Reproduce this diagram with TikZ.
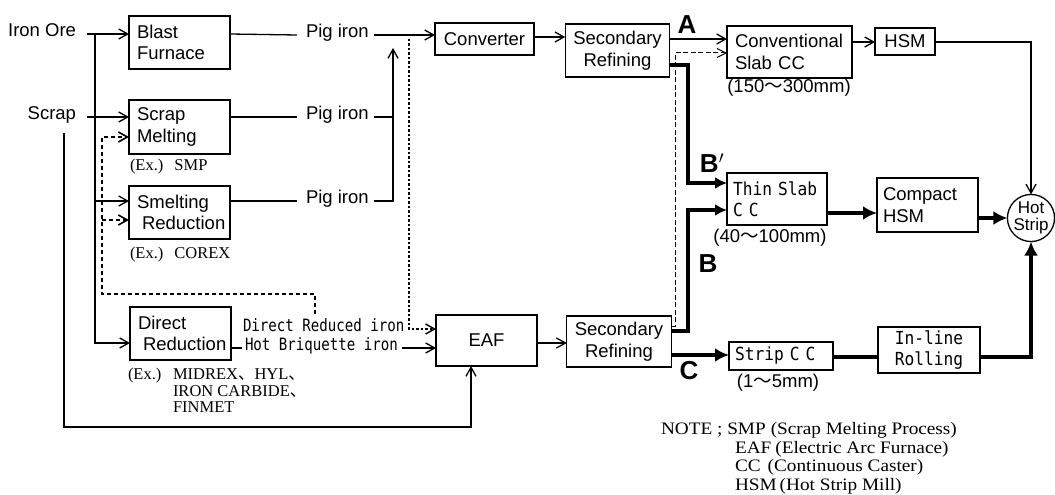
\documentclass[tikz,border=0pt]{standalone}
\usepackage{fontspec}
\setmainfont{Liberation Sans}
\newfontfamily\jserif{Liberation Serif}
\newfontfamily\jserifw[FakeStretch=1.1]{Liberation Serif}
\newfontfamily\cjk{Noto Sans CJK JP}
\newfontfamily\monobox[FakeStretch=0.9]{DejaVu Sans Mono}
\newfontfamily\monotxt[FakeStretch=0.83]{DejaVu Sans Mono}
\usetikzlibrary{arrows.meta}
\begin{document}
\begin{tikzpicture}[x=1pt,y=-1pt,
  every node/.style={inner sep=0pt, outer sep=0pt},
  sf/.style={font=\fontsize{18.5}{21.5}\selectfont},
  box/.style={draw, line width=1.3pt, inner xsep=8pt, inner ysep=0pt, sf},
  mbox/.style={draw, line width=1.3pt, inner xsep=6pt, inner ysep=0pt, font=\monobox\fontsize{18}{21}\selectfont},
  mtxt/.style={font=\monotxt\fontsize{17}{17}\selectfont},
  ser/.style={font=\jserif\fontsize{16.5}{16.5}\selectfont},
  notetxt/.style={font=\jserifw\fontsize{17.5}{17}\selectfont},
  lab/.style={font=\fontsize{26}{26}\selectfont\bfseries},
  ln/.style={line width=1.3pt},
  arr/.style={ln, -{Straight Barb[length=9pt,width=10pt]}},
  thk/.style={line width=4.5pt, -{Latex[length=14pt,width=14pt]}},
  thkB/.style={line width=3.5pt, -{Latex[length=12pt,width=12pt]}},
  dashL/.style={line width=1.6pt, dash pattern=on 4pt off 3pt},
  dotL/.style={line width=1.4pt, dash pattern=on 2.5pt off 2pt},
  dashR/.style={line width=1pt, dash pattern=on 5pt off 2.5pt},
]
\fill[white] (0,0) rectangle (1055,495);
\useasboundingbox (0,0) rectangle (1055,495);

% ---------- boxes ----------
\node[box, minimum width=101pt, minimum height=53pt, text width=85pt, align=left] (bf) at (179.5,42.5) {Blast\\Furnace};
\node[box, minimum width=101pt, minimum height=54pt, text width=85pt, align=left] (sm) at (179.5,127) {Scrap\\Melting};
\node[box, minimum width=101pt, minimum height=53pt, text width=85pt, align=left] (sr) at (179.5,212.5) {Smelting\\\hspace*{5pt}\mbox{Reduction}};
\node[box, minimum width=101pt, minimum height=53pt, text width=85pt, align=left] (dr) at (180.5,333.5) {Direct\\\hspace*{5pt}\mbox{Reduction}};

\node[box, minimum width=99pt, minimum height=32pt, align=center] (conv) at (484.5,39) {Converter};
\node[box, minimum width=103pt, minimum height=53pt, align=center] (sec1) at (617.5,50.5) {Secondary\\Refining};
\node[box, minimum width=101pt, minimum height=51pt, align=center] (eaf) at (486.5,340.5) {EAF};
\node[box, minimum width=104pt, minimum height=51pt, align=center] (sec2) at (619,341.5) {Secondary\\Refining};

\node[box, minimum width=125pt, minimum height=52pt, text width=109pt, align=left] (csc) at (789.5,52) {Conventional\\Slab CC};
\node[box, minimum width=60pt, minimum height=27pt, align=center] (hsm) at (905,41.5) {HSM};
\node[mbox, minimum width=100pt, minimum height=52pt, text width=88pt, align=left] (tsc) at (777,199) {Thin Slab\\C C};
\node[box, inner xsep=6pt, minimum width=101pt, minimum height=54pt, text width=89pt, align=left] (chsm) at (927.5,205) {Compact\\HSM};
\node[mbox, minimum width=104pt, minimum height=28pt, text width=92pt, align=left] (scc) at (781,356) {Strip C C};
\node[mbox, minimum width=102pt, minimum height=46pt, align=center] (ilr) at (929,350) {In-line\\Rolling};
\node[draw, circle, line width=1.3pt, minimum size=46pt, align=center, font=\fontsize{17}{16.5}\selectfont] (hs) at (1031,218) {Hot\\Strip};

% ---------- texts ----------
\node[sf, anchor=mid east] (ironore) at (76,34) {Iron Ore};
\node[sf, anchor=mid east] (scrap) at (76,117) {Scrap};
\node[sf, anchor=mid west] (pig1) at (306,35) {Pig iron};
\node[sf, anchor=mid west] (pig2) at (306,117) {Pig iron};
\node[sf, anchor=mid west] (pig3) at (306,201) {Pig iron};
\node[mtxt, anchor=mid west] (dri) at (243,329) {Direct Reduced iron};
\node[mtxt, anchor=mid west] (hbi) at (245,348) {Hot Briquette iron};

\node[ser, anchor=base west] (ex1) at (130,170) {(Ex.)\hspace{11pt}SMP};
\node[ser, anchor=base west] (ex2) at (130,258) {(Ex.)\hspace{11pt}COREX};
\node[ser, anchor=base west] (ex3) at (128,379) {(Ex.)};
\node[ser, anchor=base west] (ex3a) at (173,379) {MIDREX{\cjk 、}HYL{\cjk 、}};
\node[ser, anchor=base west] (ex3b) at (173,396) {IRON CARBIDE{\cjk 、}};
\node[ser, anchor=base west] (ex3c) at (173,412) {FINMET};

\node[sf, anchor=mid] (mm1) at (789,90) {(150{\cjk 〜}300mm)};
\node[sf, anchor=mid] (mm2) at (770,240) {(40{\cjk 〜}100mm)};
\node[sf, anchor=mid] (mm3) at (778,385) {(1{\cjk 〜}5mm)};

\node[lab] (labA) at (687,25) {A};
\node[lab] (labBp) at (712,163) {B$'$};
\node[lab] (labB) at (708,264) {B};
\node[lab] (labC) at (689,371) {C};

\node[notetxt, anchor=base west] (n1) at (661,434) {NOTE ; SMP\hspace{5pt}(Scrap Melting Process)};
\node[notetxt, anchor=base west] (n2) at (735,453) {EAF\hspace{4pt}(Electric Arc Furnace)};
\node[notetxt, anchor=base west] (n3) at (735,471) {CC\hspace{7pt}(Continuous Caster)};
\node[notetxt, anchor=base west] (n4) at (735,490) {HSM\hspace{3pt}(Hot Strip Mill)};

% ---------- coordinates ----------
\coordinate (pigjoin) at (393,48);
\coordinate (dtop) at (409,39);
\coordinate (dstart) at (315,314);
\coordinate (dleft) at (102,294);
\coordinate (sc0) at (64,133);

% ---------- left connectors ----------
\draw[arr] ([xshift=11pt]ironore.mid east) -- (bf.west |- ironore.mid east);
\draw[arr] (95,34) -- (95,343) -- (dr.west |- 0,343);
\draw[arr] (95,201) -- (sr.west |- 0,201);
\draw[arr] ([xshift=11pt]scrap.mid east) -- (sm.west |- scrap.mid east);
\draw[arr] (sc0) -- (64,427) -| ([xshift=-15.5pt]eaf.south);

\draw[dashL, -{Straight Barb[length=9pt,width=10pt]}] (dstart) |- (dleft) |- (sm.west |- 0,137);
\draw[dashL, -{Straight Barb[length=9pt,width=10pt]}] (102,220) -- (sr.west |- 0,220);

\draw[ln] (bf.east |- 0,34) -- ([xshift=-9pt]pig1.mid west);
\draw[ln] (sm.east |- pig2.mid west) -- ([xshift=-9pt]pig2.mid west);
\draw[ln] (sr.east |- pig3.mid west) -- ([xshift=-9pt]pig3.mid west);
\draw[arr] ([xshift=5pt]pig1.mid east) -- (conv.west |- pig1.mid east);
\draw[ln] ([xshift=5pt]pig2.mid east) -- (pig2.mid east -| pigjoin);
\draw[arr] ([xshift=5pt]pig3.mid east) -| (pigjoin);

\draw[dotL, -{Straight Barb[length=9pt,width=10pt]}] (dtop) |- (eaf.west |- dri.mid west);
\draw[ln] (dr.east |- hbi.mid west) -- ([xshift=-3pt]hbi.mid west);
\draw[arr] ([xshift=4pt]hbi.mid east) -- (eaf.west |- hbi.mid east);

% ---------- middle ----------
\draw[arr] (conv.east |- 0,37) -- (sec1.west |- 0,37);
\draw[arr] (eaf.east |- 0,343) -- (sec2.west |- 0,343);

% ---------- right ----------
\draw[arr] (sec1.east |- 0,39) -- (csc.west |- 0,39);
\draw[dashR, -{Straight Barb[length=9pt,width=9pt]}] (sec2.east |- 0,326) -- (675,326) -- (675,53) -- (csc.west |- 0,53);
\draw[thkB] (sec1.east |- 0,65) -- (688,65) -- (688,183) -- (tsc.west |- 0,183);
\draw[thkB] (sec2.east |- 0,331) -- (688,331) -- (688,210) -- (tsc.west |- 0,210);
\draw[thk] (sec2.east |- 0,355) -- (scc.west |- 0,355);

\draw[arr] (csc.east |- 0,42) -- (hsm.west |- 0,42);
\draw[arr] (hsm.east |- 0,42) -| (hs.north);
\draw[thk] (tsc.east |- 0,213) -- (chsm.west |- 0,213);
\draw[thk] (chsm.east |- hs.west) -- (hs.west);
\draw[line width=4.5pt] (scc.east |- 0,357) -- (ilr.west |- 0,357);
\draw[thk] (ilr.east |- 0,357) -| (hs.south);
\end{tikzpicture}
\end{document}
